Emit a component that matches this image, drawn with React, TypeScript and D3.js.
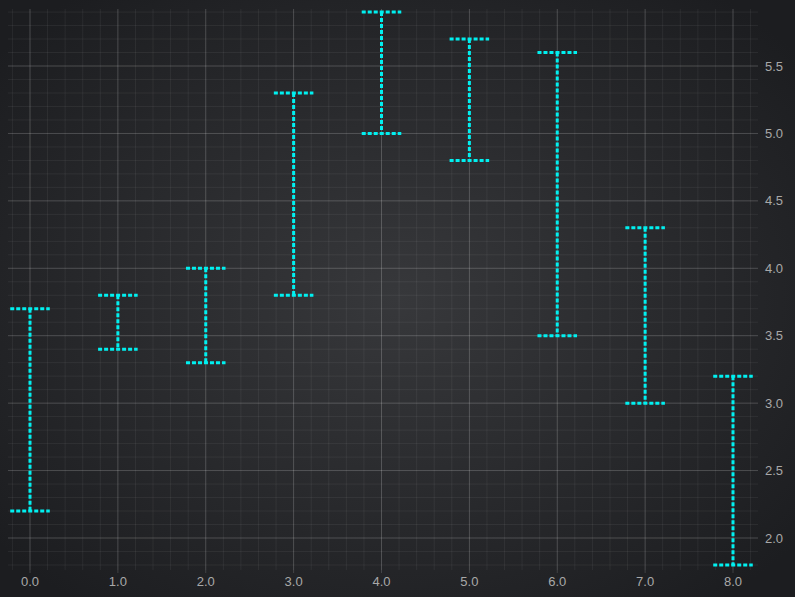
import React from "react";
import * as d3 from "d3";

const xValues = [0, 1, 2, 3, 4, 5, 6, 7, 8];
const lowValues = [2.2, 3.4, 3.3, 3.8, 5.0, 4.8, 3.5, 3.0, 1.8];
const highValues = [3.7, 3.8, 4.0, 5.3, 5.9, 5.7, 5.6, 4.3, 3.2];
const xTickLabels = ["0.0", "1.0", "2.0", "3.0", "4.0", "5.0", "6.0", "7.0", "8.0"];
const yTickValues = [2.0, 2.5, 3.0, 3.5, 4.0, 4.5, 5.0, 5.5];

const W = 795;
const H = 597;
const plot = { left: 8, top: 9, right: 758, bottom: 570 };

export default function App() {
  const x = d3.scaleLinear().domain([0, 8]).range([30, 733]);
  const y = d3.scaleLinear().domain([2, 5.5]).range([538, 66]);
  const xMin = x.invert(plot.left);
  const xMax = x.invert(plot.right);
  const yMin = y.invert(plot.bottom);
  const yMax = y.invert(plot.top);

  const xMinor = d3.range(Math.ceil(xMin / 0.2) * 0.2, xMax, 0.2).map((v) => +v.toFixed(2));
  const yMinor = d3.range(Math.ceil(yMin / 0.1) * 0.1, yMax, 0.1).map((v) => +v.toFixed(2));
  const capHalf = 0.225;
  const color = "#00f0f0";
  const dash = "4 2";

  return (
    <svg
      width={W}
      height={H}
      style={{ position: "fixed", left: 0, top: 0, display: "block" }}
      fontFamily="'Liberation Sans', Arial, sans-serif"
    >
      <defs>
        <radialGradient id="bg" cx="50%" cy="50%" r="65%">
          <stop offset="0%" stopColor="#37383b" />
          <stop offset="100%" stopColor="#1c1d20" />
        </radialGradient>
        <clipPath id="clip">
          <rect x={plot.left} y={plot.top} width={plot.right - plot.left} height={plot.bottom - plot.top} />
        </clipPath>
      </defs>
      <rect x={0} y={0} width={W} height={H} fill="#1f2023" />
      <rect x={0} y={0} width={W} height={H} fill="url(#bg)" />
      <g clipPath="url(#clip)">
        {xMinor.map((v, i) => (
          <line key={"xm" + i} x1={x(v)} x2={x(v)} y1={plot.top} y2={plot.bottom} stroke="#ffffff" strokeOpacity={0.06} />
        ))}
        {yMinor.map((v, i) => (
          <line key={"ym" + i} x1={plot.left} x2={plot.right} y1={y(v)} y2={y(v)} stroke="#ffffff" strokeOpacity={0.06} />
        ))}
        {xValues.map((v, i) => (
          <line key={"xM" + i} x1={x(v)} x2={x(v)} y1={plot.top} y2={plot.bottom} stroke="#ffffff" strokeOpacity={0.15} />
        ))}
        {yTickValues.map((v, i) => (
          <line key={"yM" + i} x1={plot.left} x2={plot.right} y1={y(v)} y2={y(v)} stroke="#ffffff" strokeOpacity={0.15} />
        ))}
      </g>
      {xValues.map((v, i) => (
        <line key={"xt" + i} x1={x(v)} x2={x(v)} y1={plot.bottom} y2={plot.bottom + 3} stroke="#ffffff" strokeOpacity={0.15} />
      ))}
      <g clipPath="url(#clip)">
        {xValues.map((v, i) => {
          const cx = x(v);
          const yl = y(lowValues[i]);
          const yh = y(highValues[i]);
          return (
            <g key={"eb" + i} stroke={color} strokeWidth={3} strokeDasharray={dash} fill="none">
              <line x1={cx} x2={cx} y1={yh} y2={yl} />
              <line x1={x(v - capHalf)} x2={x(v + capHalf)} y1={yh} y2={yh} />
              <line x1={x(v - capHalf)} x2={x(v + capHalf)} y1={yl} y2={yl} />
            </g>
          );
        })}
      </g>
      {xValues.map((v, i) => (
        <text key={"xl" + i} x={x(v)} y={581} fill="#a8a8a8" fontSize={13} textAnchor="middle" dominantBaseline="central">
          {xTickLabels[i]}
        </text>
      ))}
      {yTickValues.map((v, i) => (
        <text key={"yl" + i} x={765} y={y(v)} fill="#a8a8a8" fontSize={13} dominantBaseline="central">
          {v.toFixed(1)}
        </text>
      ))}
    </svg>
  );
}
